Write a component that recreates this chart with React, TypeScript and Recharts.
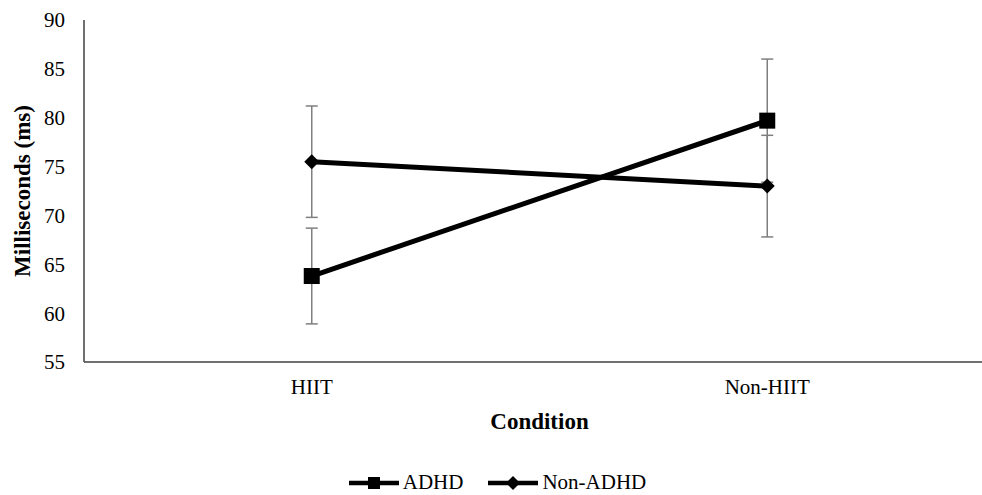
import React from "react";
import { LineChart, Line, XAxis, YAxis, ErrorBar, Legend } from "recharts";

const conditions = ["HIIT", "Non-HIIT"];
const adhdMeans = [63.8, 79.7];
const adhdErrors = [4.9, 6.3];
const nonAdhdMeans = [75.5, 73.0];
const nonAdhdErrors = [5.7, 5.2];
const yTicks = [55, 60, 65, 70, 75, 80, 85, 90];
const seriesNames = ["ADHD", "Non-ADHD"];

const data = conditions.map((c, i) => ({
  condition: c,
  adhd: adhdMeans[i],
  adhdErr: adhdErrors[i],
  nonAdhd: nonAdhdMeans[i],
  nonAdhdErr: nonAdhdErrors[i],
}));

const FONT = "'Liberation Serif', 'Times New Roman', serif";

const SquareDot = (props: any) => {
  const { cx, cy, index } = props;
  if (cx == null || cy == null) return <g key={`s${index}`} />;
  return <rect key={`s${index}`} x={cx - 8} y={cy - 8} width={16} height={16} fill="#000" />;
};

const DiamondDot = (props: any) => {
  const { cx, cy, index } = props;
  if (cx == null || cy == null) return <g key={`d${index}`} />;
  const r = 7.5;
  return (
    <polygon
      key={`d${index}`}
      points={`${cx},${cy - r} ${cx + r},${cy} ${cx},${cy + r} ${cx - r},${cy}`}
      fill="#000"
    />
  );
};

const LegendContent = () => {
  const item = (name: string, marker: "square" | "diamond", gap: number) => (
    <div style={{ display: "flex", alignItems: "center", marginRight: gap }} key={name}>
      <svg width={50} height={26}>
        <line x1={0} y1={14} x2={50} y2={14} stroke="#000" strokeWidth={4.5} />
        {marker === "square" ? (
          <rect x={19} y={8} width={12} height={12} fill="#000" />
        ) : (
          <polygon points="25,7 32,14 25,21 18,14" fill="#000" />
        )}
      </svg>
      <span style={{ marginLeft: 4, fontSize: 21, fontFamily: FONT, color: "#000", lineHeight: "26px" }}>{name}</span>
    </div>
  );
  return (
    <div style={{ display: "flex", justifyContent: "center", height: 26 }}>
      {item(seriesNames[0], "square", 25)}
      {item(seriesNames[1], "diamond", 0)}
    </div>
  );
};

export default function App() {
  return (
    <div
      style={{
        position: "absolute",
        left: 0,
        top: 0,
        width: 982,
        height: 495,
        overflow: "hidden",
        background: "#fff",
      }}
    >
      <LineChart
        width={995}
        height={495}
        data={data}
        margin={{ top: 20, right: 0, left: 0, bottom: 0 }}
      >
        <XAxis
          dataKey="condition"
          scale="band"
          height={107}
          tickLine={false}
          tickSize={0}
          tickMargin={17}
          axisLine={{ stroke: "#404040", strokeWidth: 1.5 }}
          tick={{ fontSize: 21, fontFamily: FONT, fill: "#000" }}
          label={{
            value: "Condition",
            position: "insideBottom",
            offset: 40,
            style: { fontSize: 23, fontWeight: "bold", fontFamily: FONT, fill: "#000" },
          }}
        />
        <YAxis
          width={84}
          domain={[55, 90]}
          ticks={yTicks}
          interval={0}
          tickLine={false}
          tickSize={0}
          tickMargin={19}
          axisLine={{ stroke: "#404040", strokeWidth: 1.5 }}
          tick={{ fontSize: 21, fontFamily: FONT, fill: "#000" }}
          label={{
            value: "Milliseconds (ms)",
            angle: -90,
            position: "center",
            dx: -20,
            style: { fontSize: 23, fontWeight: "bold", fontFamily: FONT, fill: "#000", textAnchor: "middle" },
          }}
        />
        <Legend verticalAlign="bottom" content={<LegendContent />} />
        <Line
          dataKey="adhd"
          name={seriesNames[0]}
          stroke="#000"
          strokeWidth={5}
          dot={<SquareDot />}
          activeDot={false}
          isAnimationActive={false}
        >
          <ErrorBar dataKey="adhdErr" width={6} stroke="#7f7f7f" strokeWidth={1.5} direction="y" />
        </Line>
        <Line
          dataKey="nonAdhd"
          name={seriesNames[1]}
          stroke="#000"
          strokeWidth={5}
          dot={<DiamondDot />}
          activeDot={false}
          isAnimationActive={false}
        >
          <ErrorBar dataKey="nonAdhdErr" width={6} stroke="#7f7f7f" strokeWidth={1.5} direction="y" />
        </Line>
      </LineChart>
    </div>
  );
}
